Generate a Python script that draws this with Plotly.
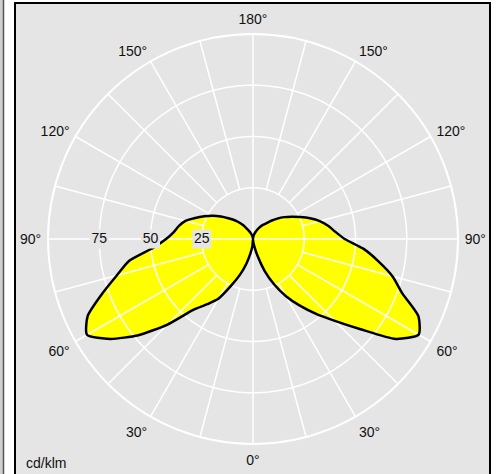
import numpy as np
import plotly.graph_objects as go

# Luminous intensity (cd/klm) vs. gamma angle, two half-planes
gamma = list(range(0, 181, 5))
c0 = [0, 1.5, 3.5, 8.5, 16.5, 24.5, 32.2, 39.5, 47.5, 56.5, 68.5, 85, 93.3, 89,
      77.5, 70.5, 62, 54, 44.7, 40.3, 37.2, 33.7, 29.6, 25.4, 21.8, 18.6, 15.5,
      12.6, 10, 8.4, 6.8, 5.1, 3.6, 2.5, 1.5, 0.7, 0]
c180 = [0, 3.5, 7, 12.5, 18.5, 25, 33.5, 38.8, 45, 59, 73, 85, 93.5, 89,
        78.4, 68.8, 61.3, 48.8, 42.4, 38.8, 36.7, 34.1, 30, 26.2, 22.7, 19.1,
        15.7, 13.1, 10.5, 8, 5.4, 4, 2.8, 1.9, 1.1, 0.5, 0]

radial_ticks = [25, 50, 75]
radial_max = 100
angle_ticks = list(range(0, 360, 30))
angle_text = [f"{a if a <= 180 else 360 - a}°" for a in angle_ticks]
unit_label = "cd/klm"

# closed outline: right half-plane (theta = gamma), then left (theta = 360 - gamma)
theta_all = gamma + [360 - g for g in reversed(gamma)]
r_all = c0 + list(reversed(c180))

FONT = "Liberation Sans, Arial, sans-serif"
TXT = "#111111"
W, H = 497, 474
cx, cy, R = 253, 239, 205

fig = go.Figure()

# yellow fill
fig.add_trace(go.Scatterpolar(
    r=r_all, theta=theta_all, mode="lines", fill="toself",
    fillcolor="#ffff00", line=dict(color="rgba(0,0,0,0)", width=0, shape="spline", smoothing=0.6),
    hoverinfo="skip"))

# grid circles (drawn above the fill)
circ_t = np.linspace(0, 360, 361).tolist()
gr, gt = [], []
for rv in radial_ticks:
    gr += [rv] * len(circ_t) + [None]
    gt += circ_t + [None]
fig.add_trace(go.Scatterpolar(r=gr, theta=gt, mode="lines",
                              line=dict(color="white", width=1.5),
                              connectgaps=False, hoverinfo="skip"))

# spokes every 15 deg from the inner ring, full cross lines through centre
sr, st = [], []
for a in range(0, 360, 15):
    start = 0 if a % 90 == 0 else radial_ticks[0]
    sr += [start, radial_max, None]
    st += [a, a, None]
fig.add_trace(go.Scatterpolar(r=sr, theta=st, mode="lines",
                              line=dict(color="white", width=1.5),
                              connectgaps=False, hoverinfo="skip"))

# black outline
fig.add_trace(go.Scatterpolar(
    r=r_all, theta=theta_all, mode="lines",
    line=dict(color="black", width=2.5, shape="spline", smoothing=0.6), hoverinfo="skip"))

# radial labels with grey boxes
fig.add_trace(go.Scatterpolar(
    r=radial_ticks, theta=[270] * len(radial_ticks), mode="markers+text",
    marker=dict(symbol="square", size=19, color="#e5e5e5"),
    text=[str(v) for v in radial_ticks], textposition="middle center",
    textfont=dict(family=FONT, size=14, color=TXT), hoverinfo="skip"))

fig.update_layout(
    width=W, height=H, autosize=False,
    margin=dict(l=0, r=0, t=0, b=0),
    paper_bgcolor="white",
    showlegend=False,
    polar=dict(
        domain=dict(x=[(cx - R) / W, (cx + R) / W],
                    y=[1 - (cy + R) / H, 1 - (cy - R) / H]),
        bgcolor="#e5e5e5",
        radialaxis=dict(range=[0, radial_max], showgrid=False, showline=False,
                        showticklabels=False, ticks=""),
        angularaxis=dict(rotation=270, direction="counterclockwise",
                         tickmode="array", tickvals=angle_ticks, ticktext=angle_text,
                         showgrid=False, showline=True, linecolor="white", linewidth=2,
                         ticks="outside", ticklen=3, tickcolor="rgba(0,0,0,0)",
                         tickfont=dict(family=FONT, size=14, color=TXT)),
    ),
    shapes=[
        dict(type="rect", xref="paper", yref="paper", layer="below",
             x0=15 / W, x1=490 / W, y0=-0.05, y1=1 - 3 / H,
             fillcolor="#e5e5e5", line=dict(color="black", width=2)),
        dict(type="rect", xref="paper", yref="paper", layer="below",
             x0=0, x1=3 / W, y0=0, y1=1,
             fillcolor="#cfcfcf", line=dict(width=0)),
        dict(type="line", xref="paper", yref="paper", layer="below",
             x0=3.5 / W, x1=3.5 / W, y0=0, y1=1,
             line=dict(color="#555555", width=1.5)),
    ],
    annotations=[
        dict(text=unit_label, xref="paper", yref="paper", x=24 / W, y=1 - 463 / H,
             xanchor="left", yanchor="middle", showarrow=False,
             font=dict(family=FONT, size=14, color=TXT)),
    ],
)

fig.write_html("out.html", config={"displayModeBar": False},
               post_script="document.body.style.margin='0px';document.body.style.overflow='hidden';")
